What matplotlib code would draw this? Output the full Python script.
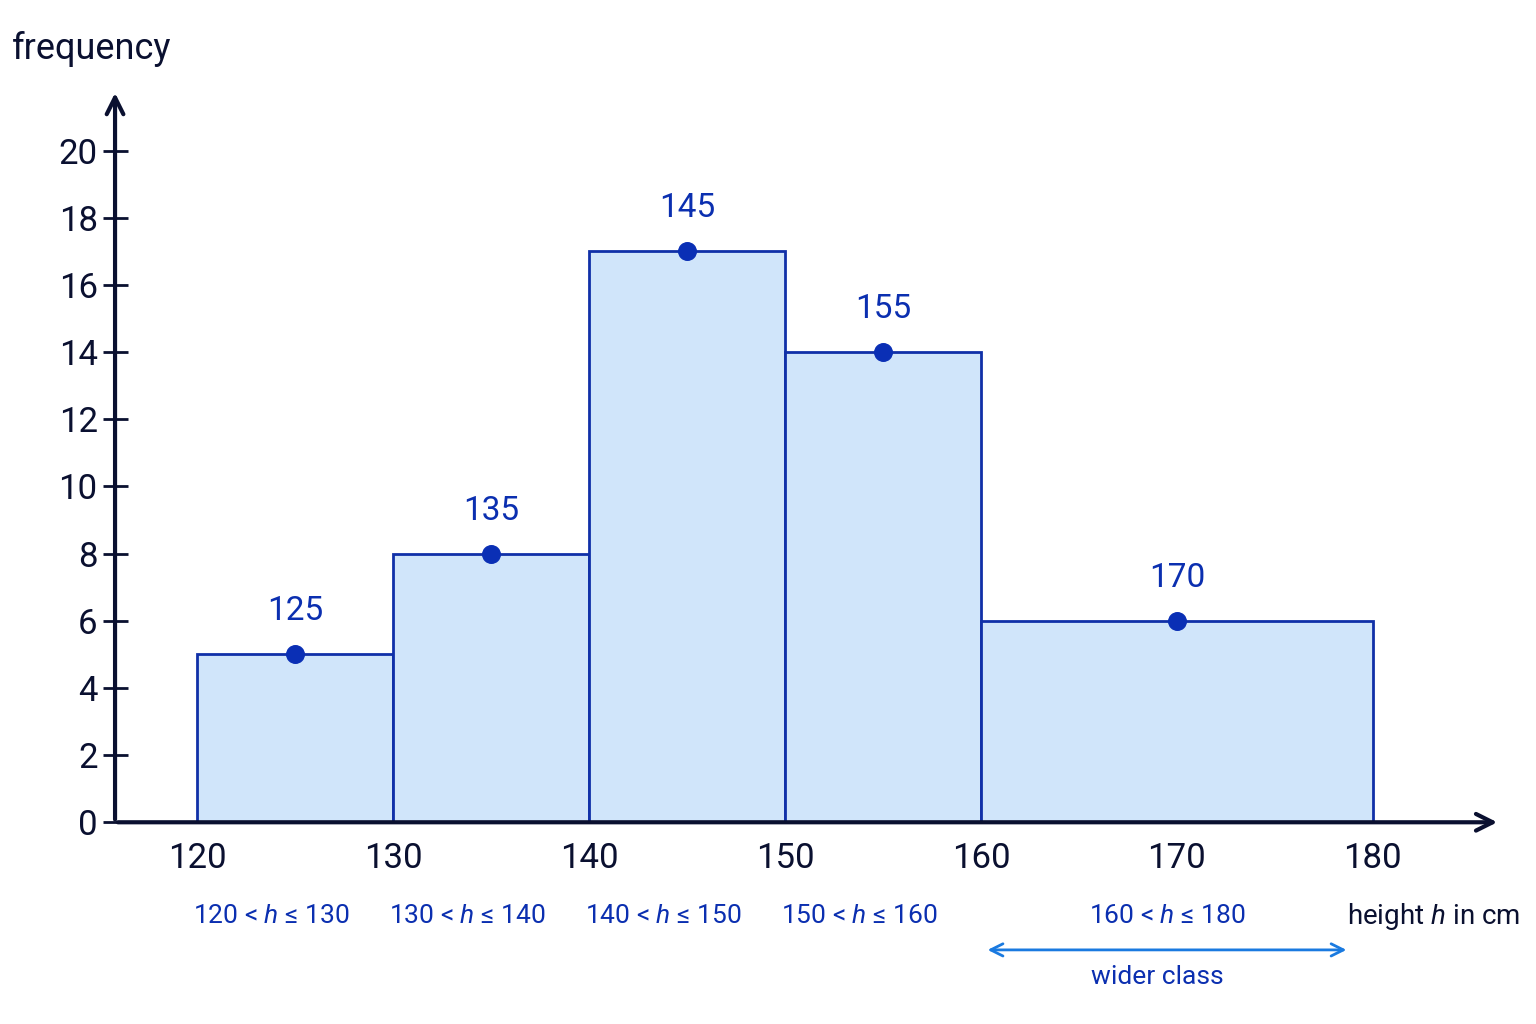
import matplotlib.pyplot as plt
import numpy as np

edges = [120, 130, 140, 150, 160, 180]
freqs = [5, 8, 17, 14, 6]
mids = [125, 135, 145, 155, 170]
class_labels = ["120 < $h$ ≤ 130", "130 < $h$ ≤ 140", "140 < $h$ ≤ 150",
                "150 < $h$ ≤ 160", "160 < $h$ ≤ 180"]
xticks = [120, 130, 140, 150, 160, 170, 180]
yticks = list(range(0, 21, 2))

plt.rcParams['font.family'] = ['Roboto', 'DejaVu Sans']
plt.rcParams['mathtext.fontset'] = 'custom'
plt.rcParams['mathtext.it'] = 'Roboto:italic'

fig = plt.figure(figsize=[15.36, 10.24], dpi=100)
ax = fig.add_axes([0.0749, 0.197, 0.9017, 0.715])
ax.set_xlim(115.8, 186.5)
ax.set_ylim(0, 21.8)

dark = '#0a1030'
blue = '#0b2fb0'
for i in range(len(freqs)):
    ax.bar(edges[i], freqs[i], width=edges[i+1]-edges[i], align='edge',
           color='#d0e5fa', edgecolor='#1030a8', linewidth=2, zorder=2)
ax.scatter(mids, freqs, s=160, color='#0a2fb5', zorder=3)
for m, f in zip(mids, freqs):
    ax.text(m, f + 0.8, str(m), ha='center', va='bottom', fontsize=24, color=blue)

for s in ['top', 'right', 'left', 'bottom']:
    ax.spines[s].set_visible(False)
ax.annotate('', xy=(186.5, 0), xytext=(115.8, 0),
            arrowprops=dict(arrowstyle='->', lw=3, color=dark, mutation_scale=30),
            annotation_clip=False)
ax.annotate('', xy=(115.8, 21.8), xytext=(115.8, 0),
            arrowprops=dict(arrowstyle='->', lw=3, color=dark, mutation_scale=30),
            annotation_clip=False)
ax.set_xticks(xticks)
ax.set_yticks(yticks)
ax.tick_params(axis='both', labelsize=25, colors=dark, width=2, length=10)
ax.tick_params(axis='y', direction='inout', length=18)
ax.tick_params(axis='x', length=0, pad=14)

for i, lab in enumerate(class_labels):
    c = (edges[i] + edges[i+1]) / 2
    if i == 4:
        c = 169.5
    else:
        c -= 1.2
    ax.text(c, -2.8, lab, ha='center', va='center', fontsize=19, color=blue)
ax.text(178.7, -2.8, "height $h$ in cm", ha='left', va='center', fontsize=20, color=dark)
ax.annotate('', xy=(160.2, -3.8), xytext=(178.8, -3.8),
            arrowprops=dict(arrowstyle='<->', lw=2, color='#1a7ae0', mutation_scale=22),
            annotation_clip=False)
ax.text(169, -4.6, "wider class", ha='center', va='center', fontsize=19, color=blue)
fig.text(0.008, 0.952, "frequency", fontsize=26, color=dark, ha='left', va='center')

fig.savefig('out.png', dpi=100, facecolor='white')
